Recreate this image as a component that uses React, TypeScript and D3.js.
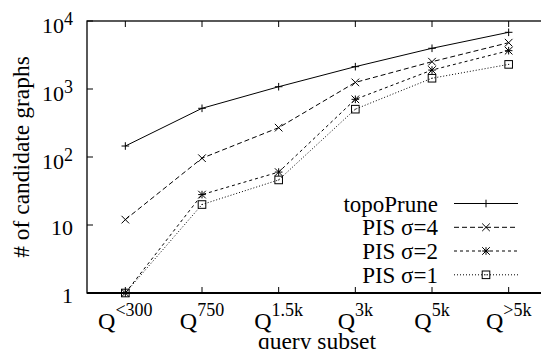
import React from 'react'
import * as d3 from 'd3'

const W = 541, H = 349
const margin = { top: 21, right: -6, bottom: 56, left: 87 }

// x categories: Q with superscript subset size
const subsets = ['<300', '750', '1.5k', '3k', '5k', '>5k']
const yTicks = [1, 10, 100, 1000, 10000]

const topoPrune = [145, 520, 1080, 2130, 3970, 6820]
const pis4 = [12, 96, 270, 1250, 2520, 4800]
const pis2 = [1, 28, 60, 705, 1900, 3660]
const pis1 = [1, 20, 46, 505, 1440, 2300]

const seriesNames = ['topoPrune', 'PIS σ=4', 'PIS σ=2', 'PIS σ=1']

const serif = "'Liberation Serif', 'Times New Roman', serif"

const x = d3.scaleLinear()
    .domain([-0.5, subsets.length - 0.5])
    .range([margin.left, W - margin.right])

const y = d3.scaleLog()
    .domain([1, 10000])
    .range([H - margin.bottom, margin.top])

const dashes = [null, '5,3', '3,3', '1,2']

const Marker = ({ kind, cx, cy }: { kind: number, cx: number, cy: number }) => {
    const s = 3.8
    const st = { stroke: '#000', strokeWidth: 1, fill: 'none' }
    const plus = `M${cx - s},${cy}H${cx + s}M${cx},${cy - s}V${cy + s}`
    const cross = `M${cx - s},${cy - s}L${cx + s},${cy + s}M${cx - s},${cy + s}L${cx + s},${cy - s}`
    if (kind === 0) return <path d={plus} {...st} />
    if (kind === 1) return <path d={cross} {...st} />
    if (kind === 2) return <path d={plus + cross} {...st} />
    return (
        <g>
            <rect x={cx - s} y={cy - s} width={2 * s} height={2 * s} {...st} />
            <rect x={cx - 0.5} y={cy - 0.5} width={1} height={1} fill="#000" />
        </g>
    )
}

export default function App() {
    const all = [topoPrune, pis4, pis2, pis1]
    const line = d3.line<number>()
        .x((d, i) => x(i))
        .y(d => y(d))

    const x0 = margin.left, x1 = W - margin.right
    const y0 = H - margin.bottom, y1 = margin.top
    const tickLen = 6

    const legendY = [203.5, 227.3, 251, 274.8]

    return (
        <svg width={W} height={H} style={{ position: 'absolute', left: 0, top: 0, background: '#fff' }}>
            {/* frame */}
            <rect x={x0} y={y1} width={x1 - x0} height={y0 - y1} fill="none" stroke="#000" strokeWidth={1.3} />
            <line x1={x0} x2={x1} y1={y0} y2={y0} stroke="#000" strokeWidth={2} />

            <g style={{ fontFamily: serif }}>
                {/* y ticks */}
                {yTicks.map(t => (
                    <g key={t}>
                        <line x1={x0} x2={x0 + tickLen} y1={y(t)} y2={y(t)} stroke="#000" />
                        <line x1={x1} x2={x1 - tickLen} y1={y(t)} y2={y(t)} stroke="#000" />
                        <text x={73} y={y(t) + (t >= 100 ? 11.5 : 9.5)} textAnchor="end" fontSize={22}>
                            {t < 100 ? String(t) : '10'}
                            {t >= 100 && <tspan dy={-8} fontSize={18}>{Math.round(Math.log10(t))}</tspan>}
                        </text>
                    </g>
                ))}

                {/* x ticks */}
                {subsets.map((s, i) => (
                    <g key={s}>
                        <line x1={x(i)} x2={x(i)} y1={y0} y2={y0 - tickLen} stroke="#000" />
                        <line x1={x(i)} x2={x(i)} y1={y1} y2={y1 + tickLen} stroke="#000" />
                        <text x={x(i)} y={329} textAnchor="middle" fontSize={24}>
                            Q<tspan dy={-13} fontSize={18}>{s}</tspan>
                        </text>
                    </g>
                ))}

                {/* axis titles */}
                <text x={(x0 + x1) / 2} y={348.5} textAnchor="middle" fontSize={23.5}>query subset</text>
                <text transform={`translate(29,${(y0 + y1) / 2}) rotate(-90)`} textAnchor="middle" fontSize={23.5}>
                    # of candidate graphs
                </text>

                {/* legend labels */}
                {seriesNames.map((name, k) => (
                    <text key={name} x={438} y={legendY[k] + 8} textAnchor="end" fontSize={23}>{name}</text>
                ))}
            </g>

            {/* series */}
            {all.map((data, k) => (
                <g key={k}>
                    <path d={line(data) || ''} fill="none" stroke="#000" strokeWidth={1}
                        strokeDasharray={dashes[k] || undefined} />
                    {data.map((v, i) => <Marker key={i} kind={k} cx={x(i)} cy={y(v)} />)}
                </g>
            ))}

            {/* legend samples */}
            {seriesNames.map((name, k) => (
                <g key={name}>
                    <line x1={454} x2={518} y1={legendY[k]} y2={legendY[k]} stroke="#000" strokeWidth={1}
                        strokeDasharray={dashes[k] || undefined} />
                    <Marker kind={k} cx={486} cy={legendY[k]} />
                </g>
            ))}
        </svg>
    )
}
